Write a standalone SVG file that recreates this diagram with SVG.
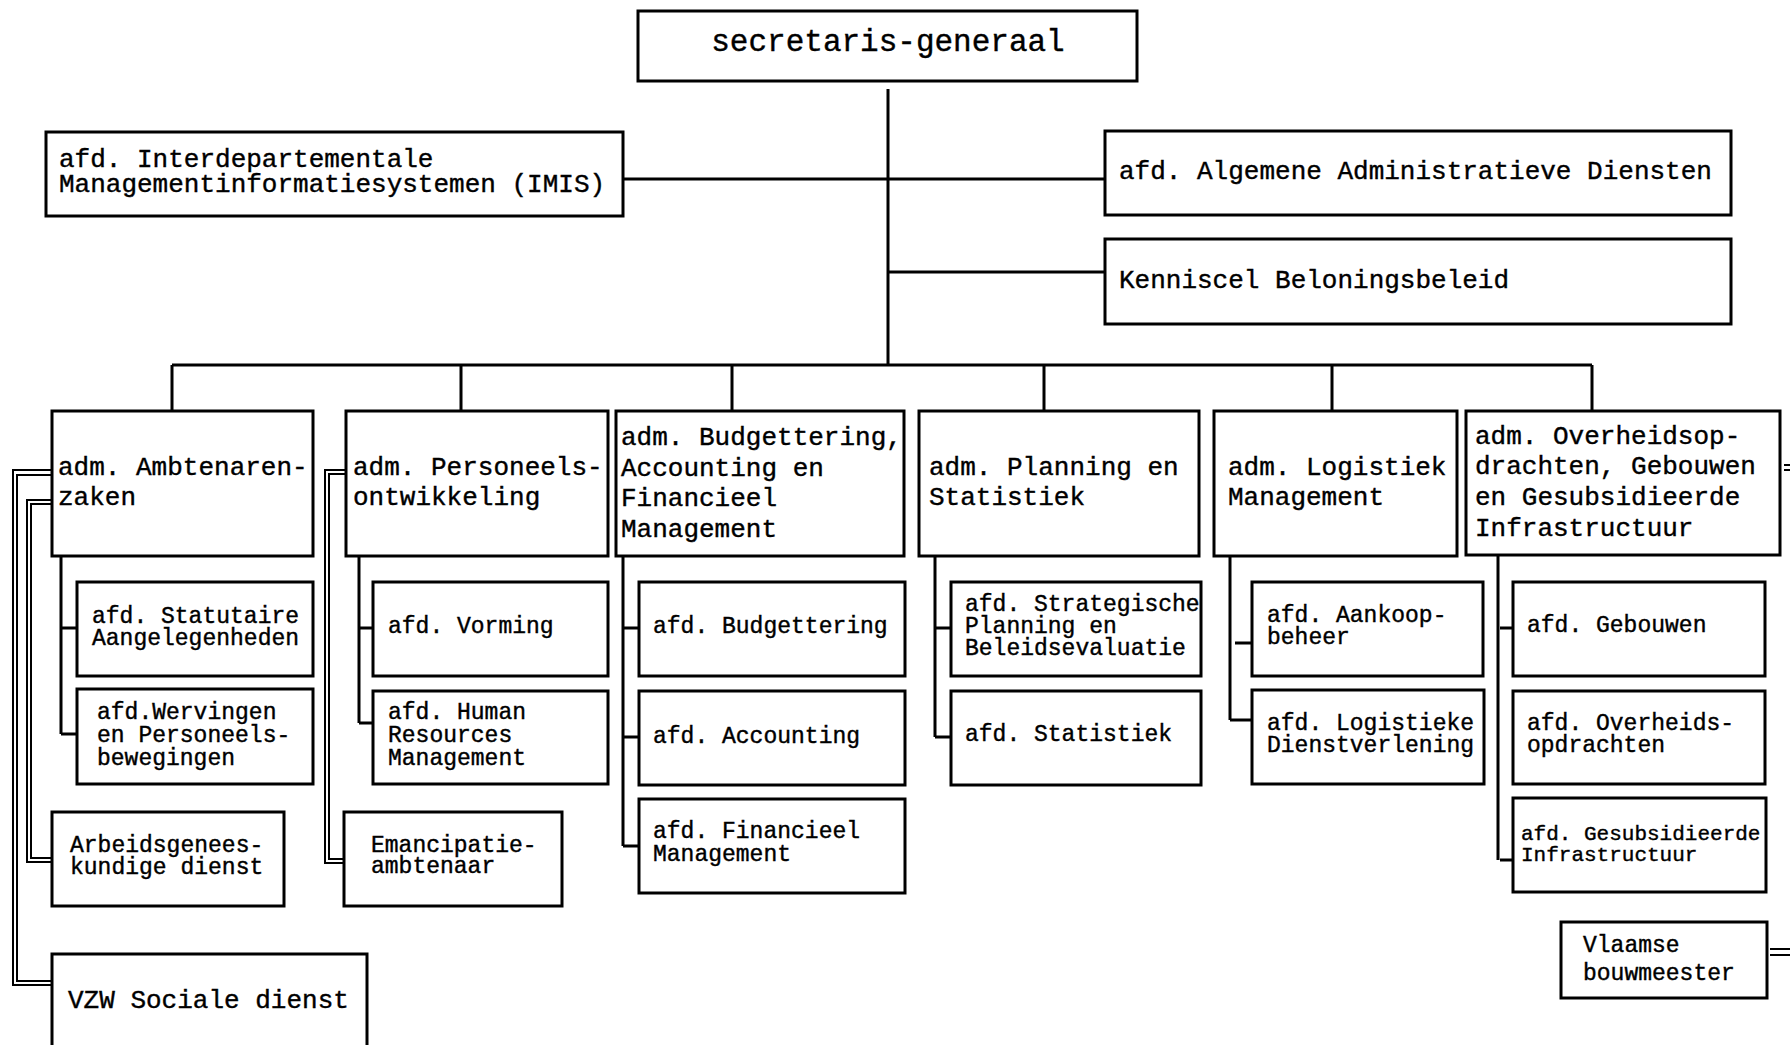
<svg xmlns="http://www.w3.org/2000/svg" width="1790" height="1045" viewBox="0 0 1790 1045">
<style>
.b{fill:#fff;stroke:#000;stroke-width:3}
.c{fill:none;stroke:#000;stroke-width:3}
.d{fill:none;stroke:#000;stroke-width:2}
text{font-family:"Liberation Mono","Courier New",monospace;fill:#000;stroke:#000;stroke-width:0.4}
.t0{font-size:31px}
.t1{font-size:26px}
.t2{font-size:23px}
.t3{font-size:21px}
</style>
<rect width="1790" height="1045" fill="#fff"/>
<g id="connectors">
<path class="c" d="M888,89V365M623,179H888M888,179H1105M888,272H1105"/>
<path class="c" d="M172,365H1592M172,365V411M461,365V411M732,365V411M1044,365V411M1332,365V411M1592,365V411"/>
<path class="c" d="M61,556V734M61,628H77M61,734H77"/>
<path class="c" d="M359,556V723M359,628H373M359,723H373"/>
<path class="c" d="M623,556V846M623,628H639M623,737H639M623,846H639"/>
<path class="c" d="M935,556V737M935,628H951M935,737H951"/>
<path class="c" d="M1230,556V720M1235,643H1252M1230,720H1252"/>
<path class="c" d="M1498,556V860M1500,628H1513M1500,860H1513"/>
<path class="d" d="M52,470H13V985H52M52,475H17V981H52"/>
<path class="d" d="M52,500H27V862H52M52,504H31V858H52"/>
<path class="d" d="M345,470H325V863H344M345,474H329V859H344"/>
<path class="d" d="M1770,949H1790M1770,955H1790M1784,465H1790M1784,470H1790"/>
</g>
<g id="sg"><rect class="b" x="638" y="11" width="499" height="70"/><text class="t0" x="888" y="51" text-anchor="middle">secretaris-generaal</text></g>
<g id="imis"><rect class="b" x="46" y="132" width="577" height="84"/><text class="t1" x="59" y="167">afd. Interdepartementale</text><text class="t1" x="59" y="192">Managementinformatiesystemen (IMIS)</text></g>
<g id="aad"><rect class="b" x="1105" y="131" width="626" height="84"/><text class="t1" x="1119" y="179">afd. Algemene Administratieve Diensten</text></g>
<g id="kb"><rect class="b" x="1105" y="239" width="626" height="85"/><text class="t1" x="1119" y="288">Kenniscel Beloningsbeleid</text></g>
<g id="b1"><rect class="b" x="52" y="411" width="261" height="145"/><text class="t1" x="58" y="475">adm. Ambtenaren-</text><text class="t1" x="58" y="505">zaken</text></g>
<g id="b2"><rect class="b" x="346" y="411" width="262" height="145"/><text class="t1" x="353" y="475">adm. Personeels-</text><text class="t1" x="353" y="505">ontwikkeling</text></g>
<g id="b3"><rect class="b" x="616" y="411" width="288" height="145"/><text class="t1" x="621" y="445">adm. Budgettering,</text><text class="t1" x="621" y="476">Accounting en</text><text class="t1" x="621" y="506">Financieel</text><text class="t1" x="621" y="537">Management</text></g>
<g id="b4"><rect class="b" x="919" y="411" width="280" height="145"/><text class="t1" x="929" y="475">adm. Planning en</text><text class="t1" x="929" y="505">Statistiek</text></g>
<g id="b5"><rect class="b" x="1214" y="411" width="243" height="145"/><text class="t1" x="1228" y="475">adm. Logistiek</text><text class="t1" x="1228" y="505">Management</text></g>
<g id="b6"><rect class="b" x="1466" y="411" width="314" height="144"/><text class="t1" x="1475" y="444">adm. Overheidsop-</text><text class="t1" x="1475" y="474">drachten, Gebouwen</text><text class="t1" x="1475" y="505">en Gesubsidieerde</text><text class="t1" x="1475" y="536">Infrastructuur</text></g>
<g id="c1a"><rect class="b" x="77" y="582" width="236" height="94"/><text class="t2" x="92" y="623">afd. Statutaire</text><text class="t2" x="92" y="645">Aangelegenheden</text></g>
<g id="c1b"><rect class="b" x="77" y="689" width="236" height="95"/><text class="t2" x="97" y="719">afd.Wervingen</text><text class="t2" x="97" y="742">en Personeels-</text><text class="t2" x="97" y="765">bewegingen</text></g>
<g id="c2a"><rect class="b" x="373" y="582" width="235" height="94"/><text class="t2" x="388" y="633">afd. Vorming</text></g>
<g id="c2b"><rect class="b" x="373" y="691" width="235" height="93"/><text class="t2" x="388" y="719">afd. Human</text><text class="t2" x="388" y="742">Resources</text><text class="t2" x="388" y="765">Management</text></g>
<g id="c3a"><rect class="b" x="639" y="582" width="266" height="94"/><text class="t2" x="653" y="633">afd. Budgettering</text></g>
<g id="c3b"><rect class="b" x="639" y="691" width="266" height="94"/><text class="t2" x="653" y="743">afd. Accounting</text></g>
<g id="c3c"><rect class="b" x="639" y="799" width="266" height="94"/><text class="t2" x="653" y="838">afd. Financieel</text><text class="t2" x="653" y="861">Management</text></g>
<g id="c4a"><rect class="b" x="951" y="582" width="250" height="94"/><text class="t2" x="965" y="611">afd. Strategische</text><text class="t2" x="965" y="633">Planning en</text><text class="t2" x="965" y="655">Beleidsevaluatie</text></g>
<g id="c4b"><rect class="b" x="951" y="691" width="250" height="94"/><text class="t2" x="965" y="741">afd. Statistiek</text></g>
<g id="c5a"><rect class="b" x="1252" y="582" width="231" height="94"/><text class="t2" x="1267" y="622">afd. Aankoop-</text><text class="t2" x="1267" y="644">beheer</text></g>
<g id="c5b"><rect class="b" x="1252" y="690" width="232" height="94"/><text class="t2" x="1267" y="730">afd. Logistieke</text><text class="t2" x="1267" y="752">Dienstverlening</text></g>
<g id="c6a"><rect class="b" x="1513" y="582" width="252" height="94"/><text class="t2" x="1527" y="632">afd. Gebouwen</text></g>
<g id="c6b"><rect class="b" x="1513" y="691" width="252" height="93"/><text class="t2" x="1527" y="730">afd. Overheids-</text><text class="t2" x="1527" y="752">opdrachten</text></g>
<g id="c6c"><rect class="b" x="1513" y="798" width="253" height="94"/><text class="t3" x="1521" y="840">afd. Gesubsidieerde</text><text class="t3" x="1521" y="861">Infrastructuur</text></g>
<g id="arb"><rect class="b" x="52" y="812" width="232" height="94"/><text class="t2" x="70" y="852">Arbeidsgenees-</text><text class="t2" x="70" y="874">kundige dienst</text></g>
<g id="eman"><rect class="b" x="344" y="812" width="218" height="94"/><text class="t2" x="371" y="852">Emancipatie-</text><text class="t2" x="371" y="873">ambtenaar</text></g>
<g id="vzw"><rect class="b" x="52" y="954" width="315" height="100"/><text class="t1" x="68" y="1008">VZW Sociale dienst</text></g>
<g id="vb"><rect class="b" x="1561" y="922" width="206" height="76"/><text class="t2" x="1583" y="952">Vlaamse</text><text class="t2" x="1583" y="980">bouwmeester</text></g>
</svg>
